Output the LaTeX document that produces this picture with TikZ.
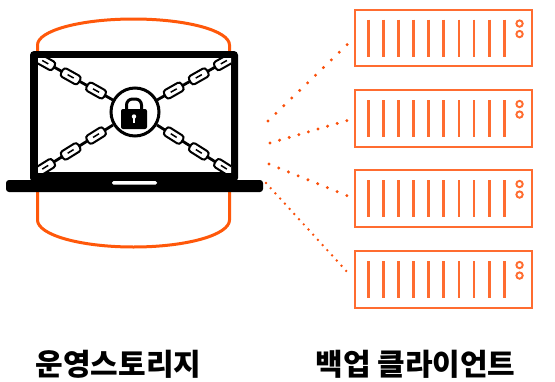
\documentclass[tikz,border=0pt]{standalone}
\usepackage{fontspec}
\newfontfamily\kofont{Noto Sans CJK KR}
\usetikzlibrary{calc}
\definecolor{cylorange}{RGB}{255,88,10}
\definecolor{srvorange}{RGB}{255,108,48}
\definecolor{dotorange}{RGB}{250,80,10}
\begin{document}
\begin{tikzpicture}[x=1pt,y=-1pt,
  cylline/.style={draw=cylorange, line width=3pt},
  server/.style={draw=srvorange, line width=2.4pt, minimum width=176.5pt,
    minimum height=56.5pt, inner sep=0pt},
  srvbar/.style={draw=srvorange, line width=2.8pt},
  srvled/.style={draw=srvorange, line width=1.9pt},
  chainlink/.style={draw=black, fill=white, line width=2pt, rounded corners=3pt,
    minimum width=20pt, minimum height=9.5pt, inner sep=0pt, sloped,
    path picture={\draw[line width=1.5pt]
      ([xshift=-3.5pt]path picture bounding box.center) --
      ([xshift=3.5pt]path picture bounding box.center);}},
  chainwire/.style={draw=black, line width=2.8pt},
  dotline/.style={draw=dotorange, line width=3.3pt, line cap=round},
  caption/.style={font=\kofont\bfseries\fontsize{30}{34}\selectfont, inner sep=0pt}
]
\useasboundingbox (0,0) rectangle (555,381);

% storage cylinder behind the laptop
\draw[cylline] (37.5,45) -- (37.5,220) arc[start angle=180, end angle=0, x radius=96, y radius=27]
  -- (229.5,45) arc[start angle=0, end angle=180, x radius=96, y radius=-26];

% laptop lid and screen
\fill[black, rounded corners=4pt] (30,51) rectangle (238,182);
\fill[white] (38,58) rectangle (231,172);

% chain anchors at the screen corners and at the lock ring
\coordinate (ctl) at (36,57);
\coordinate (ctr) at (233,57);
\coordinate (cbl) at (36,173);
\coordinate (cbr) at (233,173);
\coordinate (etl) at (113,100);
\coordinate (etr) at (157,100);
\coordinate (ebl) at (113,125);
\coordinate (ebr) at (157,125);

\begin{scope}
  \clip (38,58) rectangle (231,172);
  \foreach \a/\b in {ctl/etl, ctr/etr, cbl/ebl, cbr/ebr} {
    \draw[chainwire] (\a) -- (\b);
    \path (\a) -- (\b)
      node[chainlink, pos=0.12] {}
      node[chainlink, pos=0.45] {}
      node[chainlink, pos=0.78] {};
  }
\end{scope}

% laptop base with the opening notch
\fill[black, rounded corners=3pt] (6,180) -- (263,180) -- (263,192) -- (6,192) -- cycle;
\fill[white, rounded corners=1.5pt] (112,181) rectangle (157,184.5);

% lock ring and padlock
\node[circle, draw=black, fill=white, line width=3pt, minimum size=48pt, inner sep=0pt]
  (lockring) at (135,112) {};
\draw[line width=3pt, rounded corners=6pt] (126.5,111) -- (126.5,99) -- (141.5,99) -- (141.5,111);
\fill[black, rounded corners=2pt] (121,109) rectangle (147,129);
\fill[white] (134,116.5) circle[radius=2.2];
\fill[white] (133.2,117) rectangle (134.8,123);

% backup servers
\foreach \i/\y in {1/38, 2/118.5, 3/198.5, 4/279.5} {
  \node[server] (s\i) at (443.5,\y) {};
  \foreach \k in {0,...,9} {
    \draw[srvbar] ($(s\i.north west)+(14.3+15.1*\k,11)$) -- ($(s\i.north west)+(14.3+15.1*\k,48)$);
  }
  \draw[srvled] ($(s\i.north west)+(165.5,15)$) circle[radius=3.2];
  \draw[srvled] ($(s\i.north west)+(165.5,25.5)$) circle[radius=3.2];
}

% replication links from the laptop to each server
\coordinate (o1) at (268,121);
\coordinate (o2) at (270,143);
\coordinate (o3) at (269,164);
\coordinate (o4) at (266,183);
\draw[dotline, dash pattern=on 0pt off 11pt, shorten >=3pt] (o1) -- (s1.west);
\draw[dotline, dash pattern=on 0pt off 10pt, shorten >=3pt] (o2) -- (s2.west);
\draw[dotline, dash pattern=on 0pt off 10.5pt, shorten >=4pt] (o3) -- (s3.west);
\draw[dotline, line width=2.7pt, dash pattern=on 0pt off 7pt, shorten >=6pt] (o4) -- (s4.west);

% captions
\node[caption] (storage) at (118.5,364.5) {운영스토리지};
\node[caption] (clients) at (415.5,364.5) {백업 클라이언트};
\end{tikzpicture}
\end{document}
